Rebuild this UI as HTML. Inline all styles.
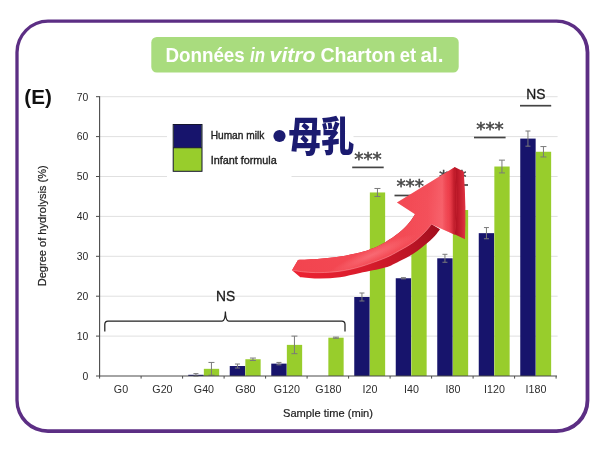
<!DOCTYPE html><html><head><meta charset="utf-8"><title>Données in vitro</title>
<style>html,body{margin:0;padding:0;background:#fff}body{width:600px;height:455px;overflow:hidden}svg{display:block;filter:blur(0.4px)}text{font-family:"Liberation Sans","Noto Sans CJK JP",sans-serif}</style></head><body>
<svg width="600" height="455" viewBox="0 0 600 455">
<defs>
<linearGradient id="gFace" x1="295" y1="270" x2="460" y2="180" gradientUnits="userSpaceOnUse">
<stop offset="0" stop-color="#f2444f"/><stop offset="0.5" stop-color="#f44c56"/><stop offset="0.8" stop-color="#f24853"/><stop offset="1" stop-color="#ee3a46"/></linearGradient>
<linearGradient id="gSide" x1="453" y1="0" x2="466" y2="0" gradientUnits="userSpaceOnUse">
<stop offset="0" stop-color="#ae1020"/><stop offset="0.3" stop-color="#b81626"/><stop offset="0.7" stop-color="#d02636"/><stop offset="1" stop-color="#e43646"/></linearGradient>
<linearGradient id="gUnder" x1="295" y1="275" x2="440" y2="225" gradientUnits="userSpaceOnUse">
<stop offset="0" stop-color="#ec2232"/><stop offset="0.45" stop-color="#d81c2c"/><stop offset="0.8" stop-color="#b81424"/><stop offset="1" stop-color="#a00e1e"/></linearGradient>
<radialGradient id="gHi" cx="0" cy="0" r="1" gradientUnits="userSpaceOnUse" gradientTransform="translate(372 255) rotate(-24) scale(48 7)">
<stop offset="0" stop-color="#ff9098" stop-opacity="0.45"/><stop offset="1" stop-color="#ff9098" stop-opacity="0"/></radialGradient>
<radialGradient id="gHi2" cx="0" cy="0" r="1" gradientUnits="userSpaceOnUse" gradientTransform="translate(432 200) rotate(-30) scale(22 14)">
<stop offset="0" stop-color="#ff8890" stop-opacity="0.45"/><stop offset="1" stop-color="#ff8890" stop-opacity="0"/></radialGradient>
<linearGradient id="gShade" x1="404" y1="0" x2="457" y2="0" gradientUnits="userSpaceOnUse">
<stop offset="0" stop-color="#ff8890" stop-opacity="0"/><stop offset="0.45" stop-color="#ff8890" stop-opacity="0.12"/><stop offset="0.72" stop-color="#ff8890" stop-opacity="0.42"/><stop offset="0.84" stop-color="#e84050" stop-opacity="0.2"/><stop offset="0.93" stop-color="#b01020" stop-opacity="0.6"/><stop offset="1" stop-color="#ac0e1e" stop-opacity="0.95"/></linearGradient>
</defs>
<rect width="600" height="455" fill="#fff"/>
<path d="M48.050000000000004 19.55H556.6999999999999A32.7 32.7 0 0 1 589.4 52.25V400.40000000000003A32.7 32.7 0 0 1 556.6999999999999 433.1H48.050000000000004A32.7 32.7 0 0 1 15.35 400.40000000000003V52.25A32.7 32.7 0 0 1 48.050000000000004 19.55ZM47.95 22.85H556.3000000000001A29.3 29.3 0 0 1 585.6 52.150000000000006V400.0A29.3 29.3 0 0 1 556.3000000000001 429.3H47.95A29.3 29.3 0 0 1 18.65 400.0V52.150000000000006A29.3 29.3 0 0 1 47.95 22.85Z" fill="#5c2e84" fill-rule="evenodd"/>
<rect x="151.3" y="37" width="307.4" height="35.6" rx="5.5" fill="#a9dc7e"/>
<text id="title" y="62.2" font-size="20" font-weight="bold" fill="#fff"><tspan x="165.4" textLength="79.4" lengthAdjust="spacingAndGlyphs">Données</tspan> <tspan x="250" font-style="italic" textLength="15" lengthAdjust="spacingAndGlyphs">in</tspan> <tspan x="269.6" font-style="italic" textLength="46" lengthAdjust="spacingAndGlyphs">vitro</tspan> <tspan x="320.4" textLength="75" lengthAdjust="spacingAndGlyphs">Charton</tspan> <tspan x="399.8" textLength="16.4" lengthAdjust="spacingAndGlyphs">et</tspan> <tspan x="420.6" textLength="23" lengthAdjust="spacingAndGlyphs">al.</tspan></text>
<line x1="99.6" y1="336.10" x2="557.6" y2="336.10" stroke="#e0e0e0" stroke-width="1"/>
<line x1="99.6" y1="296.20" x2="557.6" y2="296.20" stroke="#e0e0e0" stroke-width="1"/>
<line x1="99.6" y1="256.30" x2="557.6" y2="256.30" stroke="#e0e0e0" stroke-width="1"/>
<line x1="99.6" y1="216.40" x2="557.6" y2="216.40" stroke="#e0e0e0" stroke-width="1"/>
<line x1="99.6" y1="96.70" x2="557.6" y2="96.70" stroke="#e0e0e0" stroke-width="1"/>
<line x1="99.6" y1="136.60" x2="167" y2="136.60" stroke="#e0e0e0" stroke-width="1"/>
<line x1="353.5" y1="136.60" x2="557.6" y2="136.60" stroke="#e0e0e0" stroke-width="1"/>
<line x1="99.6" y1="176.50" x2="167" y2="176.50" stroke="#e0e0e0" stroke-width="1"/>
<line x1="291.5" y1="176.50" x2="557.6" y2="176.50" stroke="#e0e0e0" stroke-width="1"/>
<rect x="188.25" y="374.80" width="15.4" height="1.20" fill="#17146c"/>
<rect x="203.85" y="368.82" width="15.3" height="7.18" fill="#98cd2c"/>
<path d="M195.95 373.61V376.00M193.45 373.61h5M193.45 376.00h5" stroke="#7a7a7a" stroke-width="1" fill="none"/>
<path d="M211.45 362.43V375.20M208.45 362.43h6M208.45 375.20h6" stroke="#7a7a7a" stroke-width="1" fill="none"/>
<rect x="229.75" y="366.02" width="15.4" height="9.98" fill="#17146c"/>
<rect x="245.35" y="359.24" width="15.3" height="16.76" fill="#98cd2c"/>
<path d="M237.45 364.03V368.02M234.95 364.03h5M234.95 368.02h5" stroke="#7a7a7a" stroke-width="1" fill="none"/>
<path d="M252.95 358.05V360.44M249.95 358.05h6M249.95 360.44h6" stroke="#7a7a7a" stroke-width="1" fill="none"/>
<rect x="271.25" y="363.63" width="15.4" height="12.37" fill="#17146c"/>
<rect x="286.85" y="344.88" width="15.3" height="31.12" fill="#98cd2c"/>
<path d="M278.95 362.43V364.83M276.45 362.43h5M276.45 364.83h5" stroke="#7a7a7a" stroke-width="1" fill="none"/>
<path d="M294.45 336.10V353.66M291.45 336.10h6M291.45 353.66h6" stroke="#7a7a7a" stroke-width="1" fill="none"/>
<rect x="328.35" y="337.70" width="15.3" height="38.30" fill="#98cd2c"/>
<path d="M335.95 337.10V338.29M332.95 337.10h6M332.95 338.29h6" stroke="#7a7a7a" stroke-width="1" fill="none"/>
<rect x="354.25" y="297.00" width="15.4" height="79.00" fill="#17146c"/>
<rect x="369.85" y="192.46" width="15.3" height="183.54" fill="#98cd2c"/>
<path d="M361.95 293.01V300.99M359.45 293.01h5M359.45 300.99h5" stroke="#7a7a7a" stroke-width="1" fill="none"/>
<path d="M377.45 188.47V196.45M374.45 188.47h6M374.45 196.45h6" stroke="#7a7a7a" stroke-width="1" fill="none"/>
<rect x="395.75" y="278.25" width="15.4" height="97.76" fill="#17146c"/>
<rect x="411.35" y="222.38" width="15.3" height="153.62" fill="#98cd2c"/>
<path d="M403.45 277.65V278.84M400.95 277.65h5M400.95 278.84h5" stroke="#7a7a7a" stroke-width="1" fill="none"/>
<path d="M418.95 218.39V226.38M415.95 218.39h6M415.95 226.38h6" stroke="#7a7a7a" stroke-width="1" fill="none"/>
<rect x="437.25" y="258.29" width="15.4" height="117.71" fill="#17146c"/>
<rect x="452.85" y="210.02" width="15.3" height="165.98" fill="#98cd2c"/>
<path d="M444.95 254.31V262.28M442.45 254.31h5M442.45 262.28h5" stroke="#7a7a7a" stroke-width="1" fill="none"/>
<path d="M460.45 206.03V214.01M457.45 206.03h6M457.45 214.01h6" stroke="#7a7a7a" stroke-width="1" fill="none"/>
<rect x="478.75" y="233.16" width="15.4" height="142.84" fill="#17146c"/>
<rect x="494.35" y="166.52" width="15.3" height="209.48" fill="#98cd2c"/>
<path d="M486.45 227.57V238.74M483.95 227.57h5M483.95 238.74h5" stroke="#7a7a7a" stroke-width="1" fill="none"/>
<path d="M501.95 160.14V172.91M498.95 160.14h6M498.95 172.91h6" stroke="#7a7a7a" stroke-width="1" fill="none"/>
<rect x="520.25" y="138.59" width="15.4" height="237.41" fill="#17146c"/>
<rect x="535.85" y="151.76" width="15.3" height="224.24" fill="#98cd2c"/>
<path d="M527.95 131.01V146.18M525.45 131.01h5M525.45 146.18h5" stroke="#7a7a7a" stroke-width="1" fill="none"/>
<path d="M543.45 146.57V156.95M540.45 146.57h6M540.45 156.95h6" stroke="#7a7a7a" stroke-width="1" fill="none"/>
<line x1="99.6" y1="96.20" x2="99.6" y2="376.5" stroke="#4a4a4a" stroke-width="1.1"/>
<line x1="99.1" y1="376.0" x2="557" y2="376.0" stroke="#4a4a4a" stroke-width="1.1"/>
<line x1="96.0" y1="376.00" x2="99.6" y2="376.00" stroke="#4a4a4a" stroke-width="1"/>
<text x="88.3" y="379.80" text-anchor="end" font-size="10.4" fill="#2a2a2a">0</text>
<line x1="96.0" y1="336.10" x2="99.6" y2="336.10" stroke="#4a4a4a" stroke-width="1"/>
<text x="88.3" y="339.90" text-anchor="end" font-size="10.4" fill="#2a2a2a">10</text>
<line x1="96.0" y1="296.20" x2="99.6" y2="296.20" stroke="#4a4a4a" stroke-width="1"/>
<text x="88.3" y="300.00" text-anchor="end" font-size="10.4" fill="#2a2a2a">20</text>
<line x1="96.0" y1="256.30" x2="99.6" y2="256.30" stroke="#4a4a4a" stroke-width="1"/>
<text x="88.3" y="260.10" text-anchor="end" font-size="10.4" fill="#2a2a2a">30</text>
<line x1="96.0" y1="216.40" x2="99.6" y2="216.40" stroke="#4a4a4a" stroke-width="1"/>
<text x="88.3" y="220.20" text-anchor="end" font-size="10.4" fill="#2a2a2a">40</text>
<line x1="96.0" y1="176.50" x2="99.6" y2="176.50" stroke="#4a4a4a" stroke-width="1"/>
<text x="88.3" y="180.30" text-anchor="end" font-size="10.4" fill="#2a2a2a">50</text>
<line x1="96.0" y1="136.60" x2="99.6" y2="136.60" stroke="#4a4a4a" stroke-width="1"/>
<text x="88.3" y="140.40" text-anchor="end" font-size="10.4" fill="#2a2a2a">60</text>
<line x1="96.0" y1="96.70" x2="99.6" y2="96.70" stroke="#4a4a4a" stroke-width="1"/>
<text x="88.3" y="100.50" text-anchor="end" font-size="10.4" fill="#2a2a2a">70</text>
<line x1="99.60" y1="376.0" x2="99.60" y2="378.6" stroke="#4a4a4a" stroke-width="1"/>
<line x1="141.10" y1="376.0" x2="141.10" y2="378.6" stroke="#4a4a4a" stroke-width="1"/>
<line x1="182.60" y1="376.0" x2="182.60" y2="378.6" stroke="#4a4a4a" stroke-width="1"/>
<line x1="224.10" y1="376.0" x2="224.10" y2="378.6" stroke="#4a4a4a" stroke-width="1"/>
<line x1="265.60" y1="376.0" x2="265.60" y2="378.6" stroke="#4a4a4a" stroke-width="1"/>
<line x1="307.10" y1="376.0" x2="307.10" y2="378.6" stroke="#4a4a4a" stroke-width="1"/>
<line x1="348.60" y1="376.0" x2="348.60" y2="378.6" stroke="#4a4a4a" stroke-width="1"/>
<line x1="390.10" y1="376.0" x2="390.10" y2="378.6" stroke="#4a4a4a" stroke-width="1"/>
<line x1="431.60" y1="376.0" x2="431.60" y2="378.6" stroke="#4a4a4a" stroke-width="1"/>
<line x1="473.10" y1="376.0" x2="473.10" y2="378.6" stroke="#4a4a4a" stroke-width="1"/>
<line x1="514.60" y1="376.0" x2="514.60" y2="378.6" stroke="#4a4a4a" stroke-width="1"/>
<line x1="556.10" y1="376.0" x2="556.10" y2="378.6" stroke="#4a4a4a" stroke-width="1"/>
<text x="120.95" y="393.2" text-anchor="middle" font-size="10.7" fill="#2e2e2e">G0</text>
<text x="162.45" y="393.2" text-anchor="middle" font-size="10.7" fill="#2e2e2e">G20</text>
<text x="203.95" y="393.2" text-anchor="middle" font-size="10.7" fill="#2e2e2e">G40</text>
<text x="245.45" y="393.2" text-anchor="middle" font-size="10.7" fill="#2e2e2e">G80</text>
<text x="286.95" y="393.2" text-anchor="middle" font-size="10.7" fill="#2e2e2e">G120</text>
<text x="328.45" y="393.2" text-anchor="middle" font-size="10.7" fill="#2e2e2e">G180</text>
<text x="369.95" y="393.2" text-anchor="middle" font-size="10.7" fill="#2e2e2e">I20</text>
<text x="411.45" y="393.2" text-anchor="middle" font-size="10.7" fill="#2e2e2e">I40</text>
<text x="452.95" y="393.2" text-anchor="middle" font-size="10.7" fill="#2e2e2e">I80</text>
<text x="494.45" y="393.2" text-anchor="middle" font-size="10.7" fill="#2e2e2e">I120</text>
<text x="535.95" y="393.2" text-anchor="middle" font-size="10.7" fill="#2e2e2e">I180</text>
<text x="328" y="417" text-anchor="middle" font-size="11.1" fill="#222" stroke="#222" stroke-width="0.2">Sample time (min)</text>
<text transform="translate(45.6 225.8) rotate(-90)" text-anchor="middle" font-size="11.05" fill="#222" stroke="#222" stroke-width="0.2">Degree of hydrolysis (%)</text>
<text x="24.3" y="104" font-size="20.6" font-weight="bold" fill="#111">(E)</text>
<rect x="173.2" y="124.5" width="28.8" height="46.8" fill="#98cd2c" stroke="#15152e" stroke-width="1"/>
<rect x="173.7" y="125" width="27.8" height="22.8" fill="#17146c"/>
<line x1="173.2" y1="147.8" x2="202" y2="147.8" stroke="#15152e" stroke-width="0.8"/>
<text x="210.7" y="139.4" font-size="10.2" fill="#222" stroke="#222" stroke-width="0.35" textLength="53.6" lengthAdjust="spacingAndGlyphs">Human milk</text>
<text x="210.7" y="164.4" font-size="10.2" fill="#222" stroke="#222" stroke-width="0.35" textLength="66" lengthAdjust="spacingAndGlyphs">Infant formula</text>
<circle cx="279.5" cy="136" r="6.1" fill="#1b1b70"/>
<text transform="translate(288.4 151.3) scale(0.968 1.19)" font-size="34" font-weight="900" fill="#1b1b70" style="font-family:'Noto Sans CJK JP','Noto Sans CJK SC',sans-serif">母乳</text>
<text x="225.6" y="301.3" text-anchor="middle" font-size="13.8" fill="#1a1a1a" stroke="#1a1a1a" stroke-width="0.3">NS</text>
<path d="M104.8 331.5 V324.4 C104.8 322 105.8 321 108 321 H222.2 C224.6 321 225.3 317 225.4 311.6 C225.5 317 226.2 321 228.6 321 H341.8 C344 321 345 322 345 324.4 V331.5" fill="none" stroke="#222" stroke-width="1.25"/>
<text x="535.9" y="99.3" text-anchor="middle" font-size="13.8" fill="#1a1a1a" stroke="#1a1a1a" stroke-width="0.3">NS</text>
<line x1="520" y1="105.7" x2="551.2" y2="105.7" stroke="#444" stroke-width="1.7"/>
<text x="368" y="164.8" text-anchor="middle" font-size="17.2" fill="#444" stroke="#444" stroke-width="0.45" style="font-family:'DejaVu Sans','Liberation Sans',sans-serif" textLength="27.6" lengthAdjust="spacingAndGlyphs">***</text>
<line x1="352.2" y1="167.4" x2="383.7" y2="167.4" stroke="#444" stroke-width="1.7"/>
<text x="410.2" y="192.3" text-anchor="middle" font-size="17.2" fill="#444" stroke="#444" stroke-width="0.45" style="font-family:'DejaVu Sans','Liberation Sans',sans-serif" textLength="27.6" lengthAdjust="spacingAndGlyphs">***</text>
<line x1="394.5" y1="195.5" x2="426" y2="195.5" stroke="#444" stroke-width="1.7"/>
<text x="452.7" y="182.8" text-anchor="middle" font-size="17.2" fill="#444" stroke="#444" stroke-width="0.45" style="font-family:'DejaVu Sans','Liberation Sans',sans-serif" textLength="27.6" lengthAdjust="spacingAndGlyphs">***</text>
<line x1="437" y1="185" x2="468" y2="185" stroke="#444" stroke-width="1.7"/>
<text x="490" y="135.3" text-anchor="middle" font-size="17.2" fill="#444" stroke="#444" stroke-width="0.45" style="font-family:'DejaVu Sans','Liberation Sans',sans-serif" textLength="27.6" lengthAdjust="spacingAndGlyphs">***</text>
<line x1="474" y1="137.5" x2="505.6" y2="137.5" stroke="#444" stroke-width="1.7"/>
<path d="M292.0 270.2L298.0 260.0C301.7 259.8 313.0 259.4 320.0 258.8C327.0 258.2 333.3 257.6 340.0 256.6C346.7 255.6 354.7 253.9 360.0 252.6C365.3 251.3 367.8 250.3 372.0 248.6C376.2 246.9 380.4 245.1 385.0 242.4C389.6 239.7 395.2 235.9 399.3 232.6C403.4 229.3 406.7 225.7 409.3 222.6C411.9 219.5 414.1 215.6 415.0 214.2L440.0 229.3C439.2 230.4 437.0 233.5 435.0 235.7C433.0 237.9 431.5 239.4 427.9 242.4C424.3 245.4 418.4 250.3 413.6 253.4C408.8 256.5 404.1 258.8 399.3 261.2C394.5 263.6 391.6 265.6 385.0 267.6C378.4 269.6 367.5 271.4 360.0 273.0C352.5 274.6 346.7 276.3 340.0 277.2C333.3 278.1 326.6 278.6 320.0 278.6C313.4 278.6 303.6 277.4 300.3 277.2Z" fill="url(#gUnder)"/>
<path d="M454.6 167 L463.7 171.6 C465.6 195 465.8 218 465 239.2 L454 234 Z" fill="url(#gSide)"/>
<path d="M292.0 270.2L298.0 260.0C301.7 259.8 313.0 259.4 320.0 258.8C327.0 258.2 333.3 257.6 340.0 256.6C346.7 255.6 354.7 253.9 360.0 252.6C365.3 251.3 367.8 250.3 372.0 248.6C376.2 246.9 380.4 245.1 385.0 242.4C389.6 239.7 395.2 235.9 399.3 232.6C403.4 229.3 406.7 225.7 409.3 222.6C411.9 219.5 414.1 215.6 415.0 214.2L396.9 202.6 L455 167 C457 190 457 212 454.8 234.8 L431.4 224.3C430.3 225.6 428.0 229.0 425.0 232.0C422.0 235.0 417.9 239.1 413.6 242.2C409.3 245.3 404.1 248.1 399.3 250.7C394.5 253.3 391.6 255.3 385.0 258.0C378.4 260.7 367.5 264.6 360.0 266.8C352.5 269.0 346.7 270.2 340.0 271.2C333.3 272.2 325.8 272.5 320.0 272.6C314.2 272.7 309.7 272.4 305.0 272.0C300.3 271.6 294.2 270.5 292.0 270.2Z" fill="url(#gFace)"/>
<path d="M292.0 270.2L298.0 260.0C301.7 259.8 313.0 259.4 320.0 258.8C327.0 258.2 333.3 257.6 340.0 256.6C346.7 255.6 354.7 253.9 360.0 252.6C365.3 251.3 367.8 250.3 372.0 248.6C376.2 246.9 380.4 245.1 385.0 242.4C389.6 239.7 395.2 235.9 399.3 232.6C403.4 229.3 406.7 225.7 409.3 222.6C411.9 219.5 414.1 215.6 415.0 214.2L396.9 202.6 L455 167 C457 190 457 212 454.8 234.8 L431.4 224.3C430.3 225.6 428.0 229.0 425.0 232.0C422.0 235.0 417.9 239.1 413.6 242.2C409.3 245.3 404.1 248.1 399.3 250.7C394.5 253.3 391.6 255.3 385.0 258.0C378.4 260.7 367.5 264.6 360.0 266.8C352.5 269.0 346.7 270.2 340.0 271.2C333.3 272.2 325.8 272.5 320.0 272.6C314.2 272.7 309.7 272.4 305.0 272.0C300.3 271.6 294.2 270.5 292.0 270.2Z" fill="url(#gHi)"/>
<path d="M292.0 270.2L298.0 260.0C301.7 259.8 313.0 259.4 320.0 258.8C327.0 258.2 333.3 257.6 340.0 256.6C346.7 255.6 354.7 253.9 360.0 252.6C365.3 251.3 367.8 250.3 372.0 248.6C376.2 246.9 380.4 245.1 385.0 242.4C389.6 239.7 395.2 235.9 399.3 232.6C403.4 229.3 406.7 225.7 409.3 222.6C411.9 219.5 414.1 215.6 415.0 214.2L396.9 202.6 L455 167 C457 190 457 212 454.8 234.8 L431.4 224.3C430.3 225.6 428.0 229.0 425.0 232.0C422.0 235.0 417.9 239.1 413.6 242.2C409.3 245.3 404.1 248.1 399.3 250.7C394.5 253.3 391.6 255.3 385.0 258.0C378.4 260.7 367.5 264.6 360.0 266.8C352.5 269.0 346.7 270.2 340.0 271.2C333.3 272.2 325.8 272.5 320.0 272.6C314.2 272.7 309.7 272.4 305.0 272.0C300.3 271.6 294.2 270.5 292.0 270.2Z" fill="url(#gShade)"/>
<path d="M292.0 270.2C294.2 270.5 300.3 271.6 305.0 272.0C309.7 272.4 314.2 272.7 320.0 272.6C325.8 272.5 333.3 272.2 340.0 271.2C346.7 270.2 352.5 269.0 360.0 266.8C367.5 264.6 378.4 260.7 385.0 258.0C391.6 255.3 394.5 253.3 399.3 250.7C404.1 248.1 409.3 245.3 413.6 242.2C417.9 239.1 422.0 235.0 425.0 232.0C428.0 229.0 430.3 225.6 431.4 224.3" fill="none" stroke="#ffa4aa" stroke-opacity="0.55" stroke-width="0.9"/>
</svg></body></html>
